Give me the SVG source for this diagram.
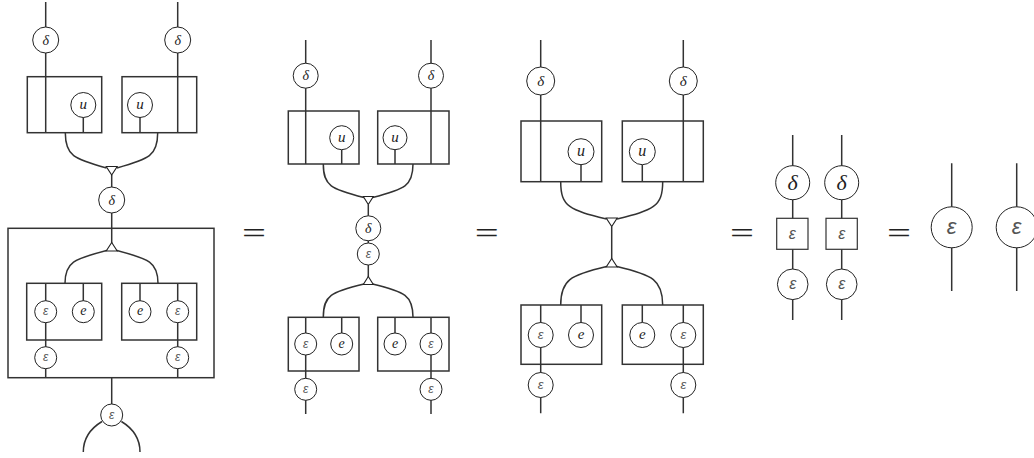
<svg xmlns="http://www.w3.org/2000/svg" width="1034" height="458" viewBox="0 0 1034 458">
<style>
.w{fill:none;stroke:#333;stroke-width:1.5}
.b{fill:none;stroke:#333;stroke-width:1.5}
.n{fill:#fff;stroke:#222;stroke-width:1}
.t{fill:#fff;stroke:#222;stroke-width:1.1}
.sq{fill:#fff;stroke:#333;stroke-width:1.2}
.it{font-family:"Liberation Serif",serif;font-style:italic;fill:#222;text-anchor:middle;dominant-baseline:central}
.ep{font-family:"Liberation Sans",sans-serif;font-style:italic;fill:#555;text-anchor:middle;dominant-baseline:central}
.eq{font-family:"Liberation Serif",serif;fill:#222;text-anchor:middle;font-size:30px}
</style>
<rect width="1034" height="458" fill="#fff"/>
<g id="connectors">
<!-- D1 -->
<path class="w" d="M45.7,2V132.7M177.7,2V132.7M83.3,117V132.7M140,117V132.7"/>
<path class="w" d="M65.3,132.7C65.3,156 74,159 106.5,168M157.7,132.7C157.7,156 149,159 117,168"/>
<path class="w" d="M111.7,175V243"/>
<path class="w" d="M106.5,250.5C74,259 65,262 65,283.3M117,250.5C149,259 158,262 158,283.3"/>
<path class="w" d="M45.7,283.3V377.7M177.7,283.3V377.7M83.3,283.3V301M140,283.3V301"/>
<path class="w" d="M111.7,377.7V404"/>
<path class="w" d="M102,421.5C88,430 83.3,440 83.3,452M121.4,421.5C135.4,430 140,440 140,452"/>
<!-- D2 -->
<path class="w" d="M305.7,40V164M431,40V164M341.7,149.7V164M395,149.7V164"/>
<path class="w" d="M323.3,164C323.3,186 331,189 364,197.5M413,164C413,186 405,189 372.5,197.5"/>
<path class="w" d="M368.3,204.5V277"/>
<path class="w" d="M364,284C331,292 323.3,295 323.3,317.3M372.5,284C405,292 413,295 413,317.3"/>
<path class="w" d="M305.7,317.3V414M431,317.3V414M341.7,317.3V333M395,317.3V333"/>
<!-- D3 -->
<path class="w" d="M540.7,40V181.7M683.3,40V181.7M581,164.7V181.7M642.3,164.7V181.7"/>
<path class="w" d="M560.7,181.7C560.7,207 570,210 606.5,219M662.7,181.7C662.7,207 653,210 617,219"/>
<path class="w" d="M611.7,226.5V259"/>
<path class="w" d="M606.5,266.5C570,275 560.7,280 560.7,305M617,266.5C653,275 662.7,280 662.7,305"/>
<path class="w" d="M540.7,305V413.3M683.3,305V413.3M581,305V322.5M642.3,305V322.5"/>
<!-- D4 -->
<path class="w" d="M792.7,135V320M841.7,135V320"/>
<!-- D5 -->
<path class="w" d="M951.7,163.3V291M1016.7,163.3V291"/>
</g>

<!-- Diagram 1 -->
<g id="d1-delta-l"><circle class="n" cx="45.7" cy="40" r="13"/><text class="it" x="45.7" y="40" font-size="14">δ</text></g>
<g id="d1-delta-r"><circle class="n" cx="177.7" cy="40" r="13"/><text class="it" x="177.7" y="40" font-size="14">δ</text></g>
<g id="d1-box-l"><rect class="b" x="27.3" y="76.7" width="74.4" height="56"/></g>
<g id="d1-box-r"><rect class="b" x="122" y="76.7" width="74.7" height="56"/></g>
<g id="d1-u-l"><circle class="n" cx="83.3" cy="105" r="12.5"/><text class="it" x="83.3" y="104" font-size="15">u</text></g>
<g id="d1-u-r"><circle class="n" cx="140" cy="105" r="12.5"/><text class="it" x="140" y="104" font-size="15">u</text></g>
<g id="d1-mult"><polygon class="t" points="106.2,166.5 117.2,166.5 111.7,175"/></g>
<g id="d1-delta-c"><circle class="n" cx="111.7" cy="200" r="13"/><text class="it" x="111.7" y="200" font-size="14">δ</text></g>
<g id="d1-bigbox"><rect class="b" x="8" y="228.3" width="206" height="149.4"/></g>
<g id="d1-comult"><polygon class="t" points="111.7,242.5 106.2,251 117.2,251"/></g>
<g id="d1-ibox-l"><rect class="b" x="26.7" y="283.3" width="75" height="56.7"/></g>
<g id="d1-ibox-r"><rect class="b" x="121.7" y="283.3" width="75" height="56.7"/></g>
<g id="d1-eps-1"><circle class="n" cx="45.7" cy="311.7" r="11"/><text class="ep" x="45.7" y="311.2" font-size="12">ε</text></g>
<g id="d1-e-1"><circle class="n" cx="83.3" cy="311.7" r="11"/><text class="it" x="83.3" y="310.7" font-size="14">e</text></g>
<g id="d1-e-2"><circle class="n" cx="140" cy="311.7" r="11"/><text class="it" x="140" y="310.7" font-size="14">e</text></g>
<g id="d1-eps-2"><circle class="n" cx="177.7" cy="311.7" r="11"/><text class="ep" x="177.7" y="311.2" font-size="12">ε</text></g>
<g id="d1-eps-3"><circle class="n" cx="45.7" cy="357.7" r="11"/><text class="ep" x="45.7" y="357.2" font-size="12">ε</text></g>
<g id="d1-eps-4"><circle class="n" cx="177.7" cy="357.7" r="11"/><text class="ep" x="177.7" y="357.2" font-size="12">ε</text></g>
<g id="d1-eps-cap"><circle class="n" cx="111.7" cy="415" r="11"/><text class="ep" x="111.7" y="414.5" font-size="12">ε</text></g>

<text class="eq" x="254" y="243" textLength="24" lengthAdjust="spacingAndGlyphs">=</text>

<!-- Diagram 2 -->
<g id="d2-delta-l"><circle class="n" cx="305.7" cy="75.7" r="12.5"/><text class="it" x="305.7" y="75.7" font-size="14">δ</text></g>
<g id="d2-delta-r"><circle class="n" cx="431" cy="75.7" r="12.5"/><text class="it" x="431" y="75.7" font-size="14">δ</text></g>
<g id="d2-box-l"><rect class="b" x="288.3" y="111" width="70.7" height="53"/></g>
<g id="d2-box-r"><rect class="b" x="377.7" y="111" width="71.3" height="53"/></g>
<g id="d2-u-l"><circle class="n" cx="341.7" cy="137.7" r="12"/><text class="it" x="341.7" y="136.7" font-size="15">u</text></g>
<g id="d2-u-r"><circle class="n" cx="395" cy="137.7" r="12"/><text class="it" x="395" y="136.7" font-size="15">u</text></g>
<g id="d2-mult"><polygon class="t" points="363.3,196.5 373.3,196.5 368.3,204.5"/></g>
<g id="d2-delta-c"><circle class="n" cx="368.3" cy="228.3" r="12.5"/><text class="it" x="368.3" y="228.3" font-size="14">δ</text></g>
<g id="d2-eps-c"><circle class="n" cx="368.3" cy="254" r="11"/><text class="ep" x="368.3" y="253.5" font-size="12">ε</text></g>
<g id="d2-comult"><polygon class="t" points="368.3,276.5 363.3,284.5 373.3,284.5"/></g>
<g id="d2-box-bl"><rect class="b" x="288.3" y="317.3" width="70.7" height="53.7"/></g>
<g id="d2-box-br"><rect class="b" x="377.7" y="317.3" width="71.3" height="53.7"/></g>
<g id="d2-eps-1"><circle class="n" cx="305.7" cy="344" r="11"/><text class="ep" x="305.7" y="343.5" font-size="12">ε</text></g>
<g id="d2-e-1"><circle class="n" cx="341.7" cy="344" r="11"/><text class="it" x="341.7" y="343" font-size="14">e</text></g>
<g id="d2-e-2"><circle class="n" cx="395" cy="344" r="11"/><text class="it" x="395" y="343" font-size="14">e</text></g>
<g id="d2-eps-2"><circle class="n" cx="431" cy="344" r="11"/><text class="ep" x="431" y="343.5" font-size="12">ε</text></g>
<g id="d2-eps-3"><circle class="n" cx="305.7" cy="389.3" r="11"/><text class="ep" x="305.7" y="388.8" font-size="12">ε</text></g>
<g id="d2-eps-4"><circle class="n" cx="431" cy="389.3" r="11"/><text class="ep" x="431" y="388.8" font-size="12">ε</text></g>

<text class="eq" x="486.7" y="243" textLength="24" lengthAdjust="spacingAndGlyphs">=</text>

<!-- Diagram 3 -->
<g id="d3-delta-l"><circle class="n" cx="540.7" cy="81" r="14"/><text class="it" x="540.7" y="81" font-size="15">δ</text></g>
<g id="d3-delta-r"><circle class="n" cx="683.3" cy="81" r="14"/><text class="it" x="683.3" y="81" font-size="15">δ</text></g>
<g id="d3-box-l"><rect class="b" x="521" y="121" width="80.7" height="60.7"/></g>
<g id="d3-box-r"><rect class="b" x="622.3" y="121" width="81" height="60.7"/></g>
<g id="d3-u-l"><circle class="n" cx="581" cy="151.7" r="13"/><text class="it" x="581" y="150.7" font-size="16">u</text></g>
<g id="d3-u-r"><circle class="n" cx="642.3" cy="151.7" r="13"/><text class="it" x="642.3" y="150.7" font-size="16">u</text></g>
<g id="d3-mult"><polygon class="t" points="606.2,218 617.2,218 611.7,226.5"/></g>
<g id="d3-comult"><polygon class="t" points="611.7,258.5 606.2,267 617.2,267"/></g>
<g id="d3-box-bl"><rect class="b" x="521" y="305" width="80.7" height="59.3"/></g>
<g id="d3-box-br"><rect class="b" x="622.3" y="305" width="81" height="59.3"/></g>
<g id="d3-eps-1"><circle class="n" cx="540.7" cy="335" r="12.5"/><text class="ep" x="540.7" y="334.5" font-size="13">ε</text></g>
<g id="d3-e-1"><circle class="n" cx="581" cy="335" r="12.5"/><text class="it" x="581" y="334" font-size="15">e</text></g>
<g id="d3-e-2"><circle class="n" cx="642.3" cy="335" r="12.5"/><text class="it" x="642.3" y="334" font-size="15">e</text></g>
<g id="d3-eps-2"><circle class="n" cx="683.3" cy="335" r="12.5"/><text class="ep" x="683.3" y="334.5" font-size="13">ε</text></g>
<g id="d3-eps-3"><circle class="n" cx="540.7" cy="385" r="12.5"/><text class="ep" x="540.7" y="384.5" font-size="13">ε</text></g>
<g id="d3-eps-4"><circle class="n" cx="683.3" cy="385" r="12.5"/><text class="ep" x="683.3" y="384.5" font-size="13">ε</text></g>

<text class="eq" x="742" y="243" textLength="24" lengthAdjust="spacingAndGlyphs">=</text>

<!-- Diagram 4 -->
<g id="d4-delta-l"><circle class="n" cx="792.7" cy="182.7" r="17"/><text class="it" x="792.7" y="182.7" font-size="22">δ</text></g>
<g id="d4-delta-r"><circle class="n" cx="841.7" cy="182.7" r="17"/><text class="it" x="841.7" y="182.7" font-size="22">δ</text></g>
<g id="d4-sq-l"><rect class="sq" x="776.7" y="218.3" width="31.3" height="31"/><text class="ep" x="792.3" y="233.3" font-size="16">ε</text></g>
<g id="d4-sq-r"><rect class="sq" x="826" y="218.3" width="31.3" height="31"/><text class="ep" x="841.7" y="233.3" font-size="16">ε</text></g>
<g id="d4-eps-l"><circle class="n" cx="792.7" cy="284.3" r="15.3"/><text class="ep" x="792.7" y="283.8" font-size="16">ε</text></g>
<g id="d4-eps-r"><circle class="n" cx="841.7" cy="284.3" r="15.3"/><text class="ep" x="841.7" y="283.8" font-size="16">ε</text></g>

<text class="eq" x="899" y="243" textLength="24" lengthAdjust="spacingAndGlyphs">=</text>

<!-- Diagram 5 -->
<g id="d5-eps-l"><circle class="n" cx="951.7" cy="227.3" r="20.5"/><text class="ep" x="951.7" y="226.5" font-size="22">ε</text></g>
<g id="d5-eps-r"><circle class="n" cx="1016.7" cy="227.3" r="20.5"/><text class="ep" x="1016.7" y="226.5" font-size="22">ε</text></g>
</svg>
